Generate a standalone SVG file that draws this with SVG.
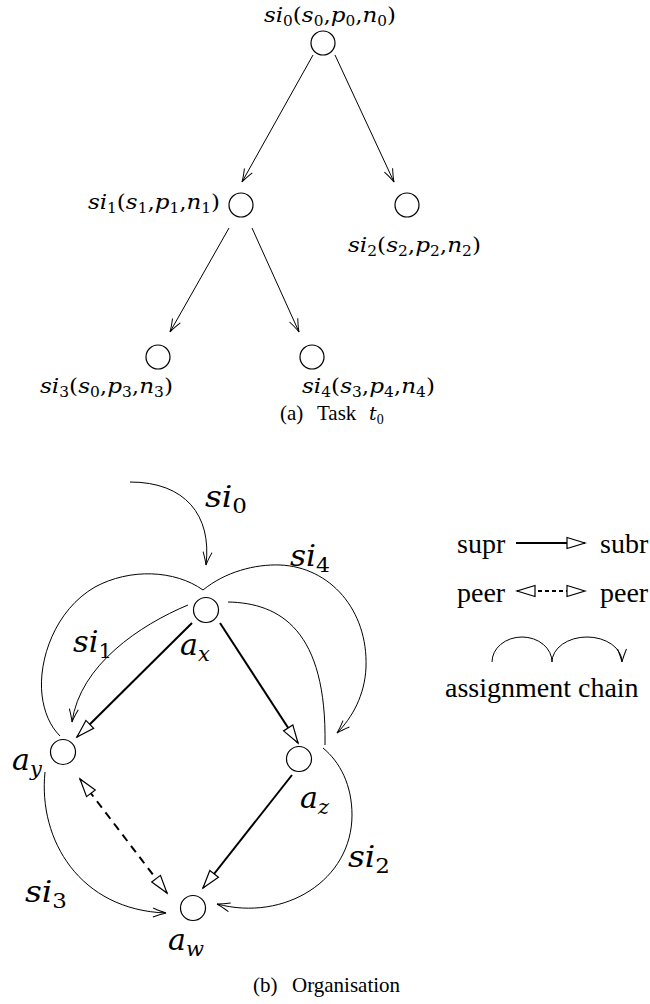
<svg xmlns="http://www.w3.org/2000/svg" width="650" height="1004" viewBox="0 0 650 1004">
<style>
.nd{fill:#fff;stroke:#000;stroke-width:1.2}
.thin{fill:none;stroke:#000;stroke-width:1}
.thick{fill:none;stroke:#000;stroke-width:2}
.tl{font-family:"DejaVu Serif","Liberation Serif",serif;font-size:21px;fill:#000}
.ml{font-family:"DejaVu Serif","Liberation Serif",serif;font-size:30px;fill:#000}
.cap{font-family:"Liberation Serif",serif;font-size:21px;fill:#000}
.lg{font-family:"Liberation Serif",serif;font-size:28px;fill:#000}
.it{font-style:italic}
.sb{font-size:14px}
.msb{font-size:21px}
.capit{font-family:"DejaVu Serif",serif;font-style:italic;font-size:19px}
</style>
<defs>
<marker id="v" markerUnits="userSpaceOnUse" orient="auto" refX="0" refY="0" overflow="visible">
<path d="M-13,-4.5 Q-5,-1.2 0,0 Q-5,1.2 -13,4.5" fill="none" stroke="#000" stroke-width="1"/>
</marker>
<marker id="tri" markerUnits="userSpaceOnUse" orient="auto-start-reverse" refX="0" refY="0" overflow="visible">
<path d="M0,0 L-18,-5.5 L-18,5.5 Z" fill="#fff" stroke="#000" stroke-width="1.2"/>
</marker>
</defs>

<!-- (a) Task tree -->
<g id="connectors-a">
<line class="thin" x1="313" y1="55" x2="242" y2="182" marker-end="url(#v)"/>
<line class="thin" x1="335" y1="55" x2="394" y2="182" marker-end="url(#v)"/>
<line class="thin" x1="229" y1="228" x2="170" y2="332" marker-end="url(#v)"/>
<line class="thin" x1="252" y1="228" x2="299" y2="332" marker-end="url(#v)"/>
</g>
<g id="si0">
<circle class="nd" cx="323" cy="43" r="12"/>
<text class="tl" x="264" y="22" textLength="132" lengthAdjust="spacingAndGlyphs"><tspan class="it">si</tspan><tspan class="sb" dy="4">0</tspan><tspan dy="-4">(</tspan><tspan class="it">s</tspan><tspan class="sb" dy="4">0</tspan><tspan dy="-4">,</tspan><tspan class="it">p</tspan><tspan class="sb" dy="4">0</tspan><tspan dy="-4">,</tspan><tspan class="it">n</tspan><tspan class="sb" dy="4">0</tspan><tspan dy="-4">)</tspan></text>
</g>
<g id="si1">
<circle class="nd" cx="241" cy="205" r="12"/>
<text class="tl" x="88" y="209" textLength="132" lengthAdjust="spacingAndGlyphs"><tspan class="it">si</tspan><tspan class="sb" dy="4">1</tspan><tspan dy="-4">(</tspan><tspan class="it">s</tspan><tspan class="sb" dy="4">1</tspan><tspan dy="-4">,</tspan><tspan class="it">p</tspan><tspan class="sb" dy="4">1</tspan><tspan dy="-4">,</tspan><tspan class="it">n</tspan><tspan class="sb" dy="4">1</tspan><tspan dy="-4">)</tspan></text>
</g>
<g id="si2">
<circle class="nd" cx="407" cy="205" r="12"/>
<text class="tl" x="348" y="252" textLength="133" lengthAdjust="spacingAndGlyphs"><tspan class="it">si</tspan><tspan class="sb" dy="4">2</tspan><tspan dy="-4">(</tspan><tspan class="it">s</tspan><tspan class="sb" dy="4">2</tspan><tspan dy="-4">,</tspan><tspan class="it">p</tspan><tspan class="sb" dy="4">2</tspan><tspan dy="-4">,</tspan><tspan class="it">n</tspan><tspan class="sb" dy="4">2</tspan><tspan dy="-4">)</tspan></text>
</g>
<g id="si3">
<circle class="nd" cx="158" cy="357" r="12"/>
<text class="tl" x="40" y="393" textLength="133" lengthAdjust="spacingAndGlyphs"><tspan class="it">si</tspan><tspan class="sb" dy="4">3</tspan><tspan dy="-4">(</tspan><tspan class="it">s</tspan><tspan class="sb" dy="4">0</tspan><tspan dy="-4">,</tspan><tspan class="it">p</tspan><tspan class="sb" dy="4">3</tspan><tspan dy="-4">,</tspan><tspan class="it">n</tspan><tspan class="sb" dy="4">3</tspan><tspan dy="-4">)</tspan></text>
</g>
<g id="si4">
<circle class="nd" cx="312" cy="357" r="12"/>
<text class="tl" x="302" y="393" textLength="133" lengthAdjust="spacingAndGlyphs"><tspan class="it">si</tspan><tspan class="sb" dy="4">4</tspan><tspan dy="-4">(</tspan><tspan class="it">s</tspan><tspan class="sb" dy="4">3</tspan><tspan dy="-4">,</tspan><tspan class="it">p</tspan><tspan class="sb" dy="4">4</tspan><tspan dy="-4">,</tspan><tspan class="it">n</tspan><tspan class="sb" dy="4">4</tspan><tspan dy="-4">)</tspan></text>
</g>
<text class="cap" x="280" y="420">(a)<tspan x="317">Task</tspan><tspan x="369" class="capit">t</tspan><tspan class="sb" dy="4">0</tspan></text>

<!-- (b) Organisation -->
<g id="connectors-b">
<path class="thin" d="M130,482 C185,482 212,515 206,565" marker-end="url(#v)"/>
<path class="thin" d="M203,590 C225,572 255,564 280,565 C330,567 368,610 366,667 C365,695 352,718 337,733" marker-end="url(#v)"/>
<path class="thin" d="M203,590 C175,570 130,568 95,587 C55,610 38,660 42,695 C44,712 50,726 60,736"/>
<path class="thin" d="M188,605 C140,625 80,665 72,722" marker-end="url(#v)"/>
<path class="thin" d="M45,772 C38,840 80,910 166,913" marker-end="url(#v)"/>
<path class="thin" d="M228,602 C280,603 327,630 325,745"/>
<path class="thin" d="M323,748 C340,762 352,785 352,815 C352,880 285,922 217,904" marker-end="url(#v)"/>
<line class="thick" x1="192" y1="623" x2="77" y2="737" marker-end="url(#tri)"/>
<line class="thick" x1="220" y1="623" x2="298" y2="743" marker-end="url(#tri)"/>
<line class="thick" x1="292" y1="775" x2="203" y2="888" marker-end="url(#tri)"/>
<line class="thick" x1="80" y1="779" x2="167" y2="893" stroke-dasharray="8,6" marker-start="url(#tri)" marker-end="url(#tri)"/>
</g>
<g id="ax">
<circle class="nd" cx="206" cy="610" r="12.5"/>
<text class="ml it" x="180" y="655">a<tspan class="msb" dy="6">x</tspan></text>
</g>
<g id="ay">
<circle class="nd" cx="63" cy="752" r="12.5"/>
<text class="ml it" x="12" y="770">a<tspan class="msb" dy="6">y</tspan></text>
</g>
<g id="az">
<circle class="nd" cx="299" cy="759" r="12.5"/>
<text class="ml it" x="300" y="808">a<tspan class="msb" dy="6">z</tspan></text>
</g>
<g id="aw">
<circle class="nd" cx="193" cy="908" r="12.5"/>
<text class="ml it" x="168" y="950">a<tspan class="msb" dy="6">w</tspan></text>
</g>
<g id="chain-labels">
<text class="ml" x="205" y="507" textLength="42" lengthAdjust="spacingAndGlyphs"><tspan class="it">si</tspan><tspan class="msb" dy="6">0</tspan></text>
<text class="ml" x="290" y="566" textLength="40" lengthAdjust="spacingAndGlyphs"><tspan class="it">si</tspan><tspan class="msb" dy="6">4</tspan></text>
<text class="ml" x="73" y="652" textLength="39" lengthAdjust="spacingAndGlyphs"><tspan class="it">si</tspan><tspan class="msb" dy="6">1</tspan></text>
<text class="ml" x="348" y="867" textLength="42" lengthAdjust="spacingAndGlyphs"><tspan class="it">si</tspan><tspan class="msb" dy="6">2</tspan></text>
<text class="ml" x="25" y="902" textLength="42" lengthAdjust="spacingAndGlyphs"><tspan class="it">si</tspan><tspan class="msb" dy="6">3</tspan></text>
</g>
<g id="legend">
<text class="lg" x="457" y="553">supr</text>
<line x1="516" y1="543" x2="585" y2="543" stroke="#000" stroke-width="2.2" marker-end="url(#tri)"/>
<text class="lg" x="600" y="553">subr</text>
<text class="lg" x="457" y="602">peer</text>
<line x1="517" y1="591" x2="585" y2="591" stroke="#000" stroke-width="2" stroke-dasharray="4,3" marker-start="url(#tri)" marker-end="url(#tri)"/>
<text class="lg" x="600" y="602">peer</text>
<path class="thin" d="M492,662 A30,25 0 0 1 552,662 A35,25 0 0 1 622,662" marker-end="url(#v)"/>
<text class="lg" x="445" y="697">assignment chain</text>
</g>
<text class="cap" x="253" y="992">(b)<tspan x="292">Organisation</tspan></text>
</svg>
